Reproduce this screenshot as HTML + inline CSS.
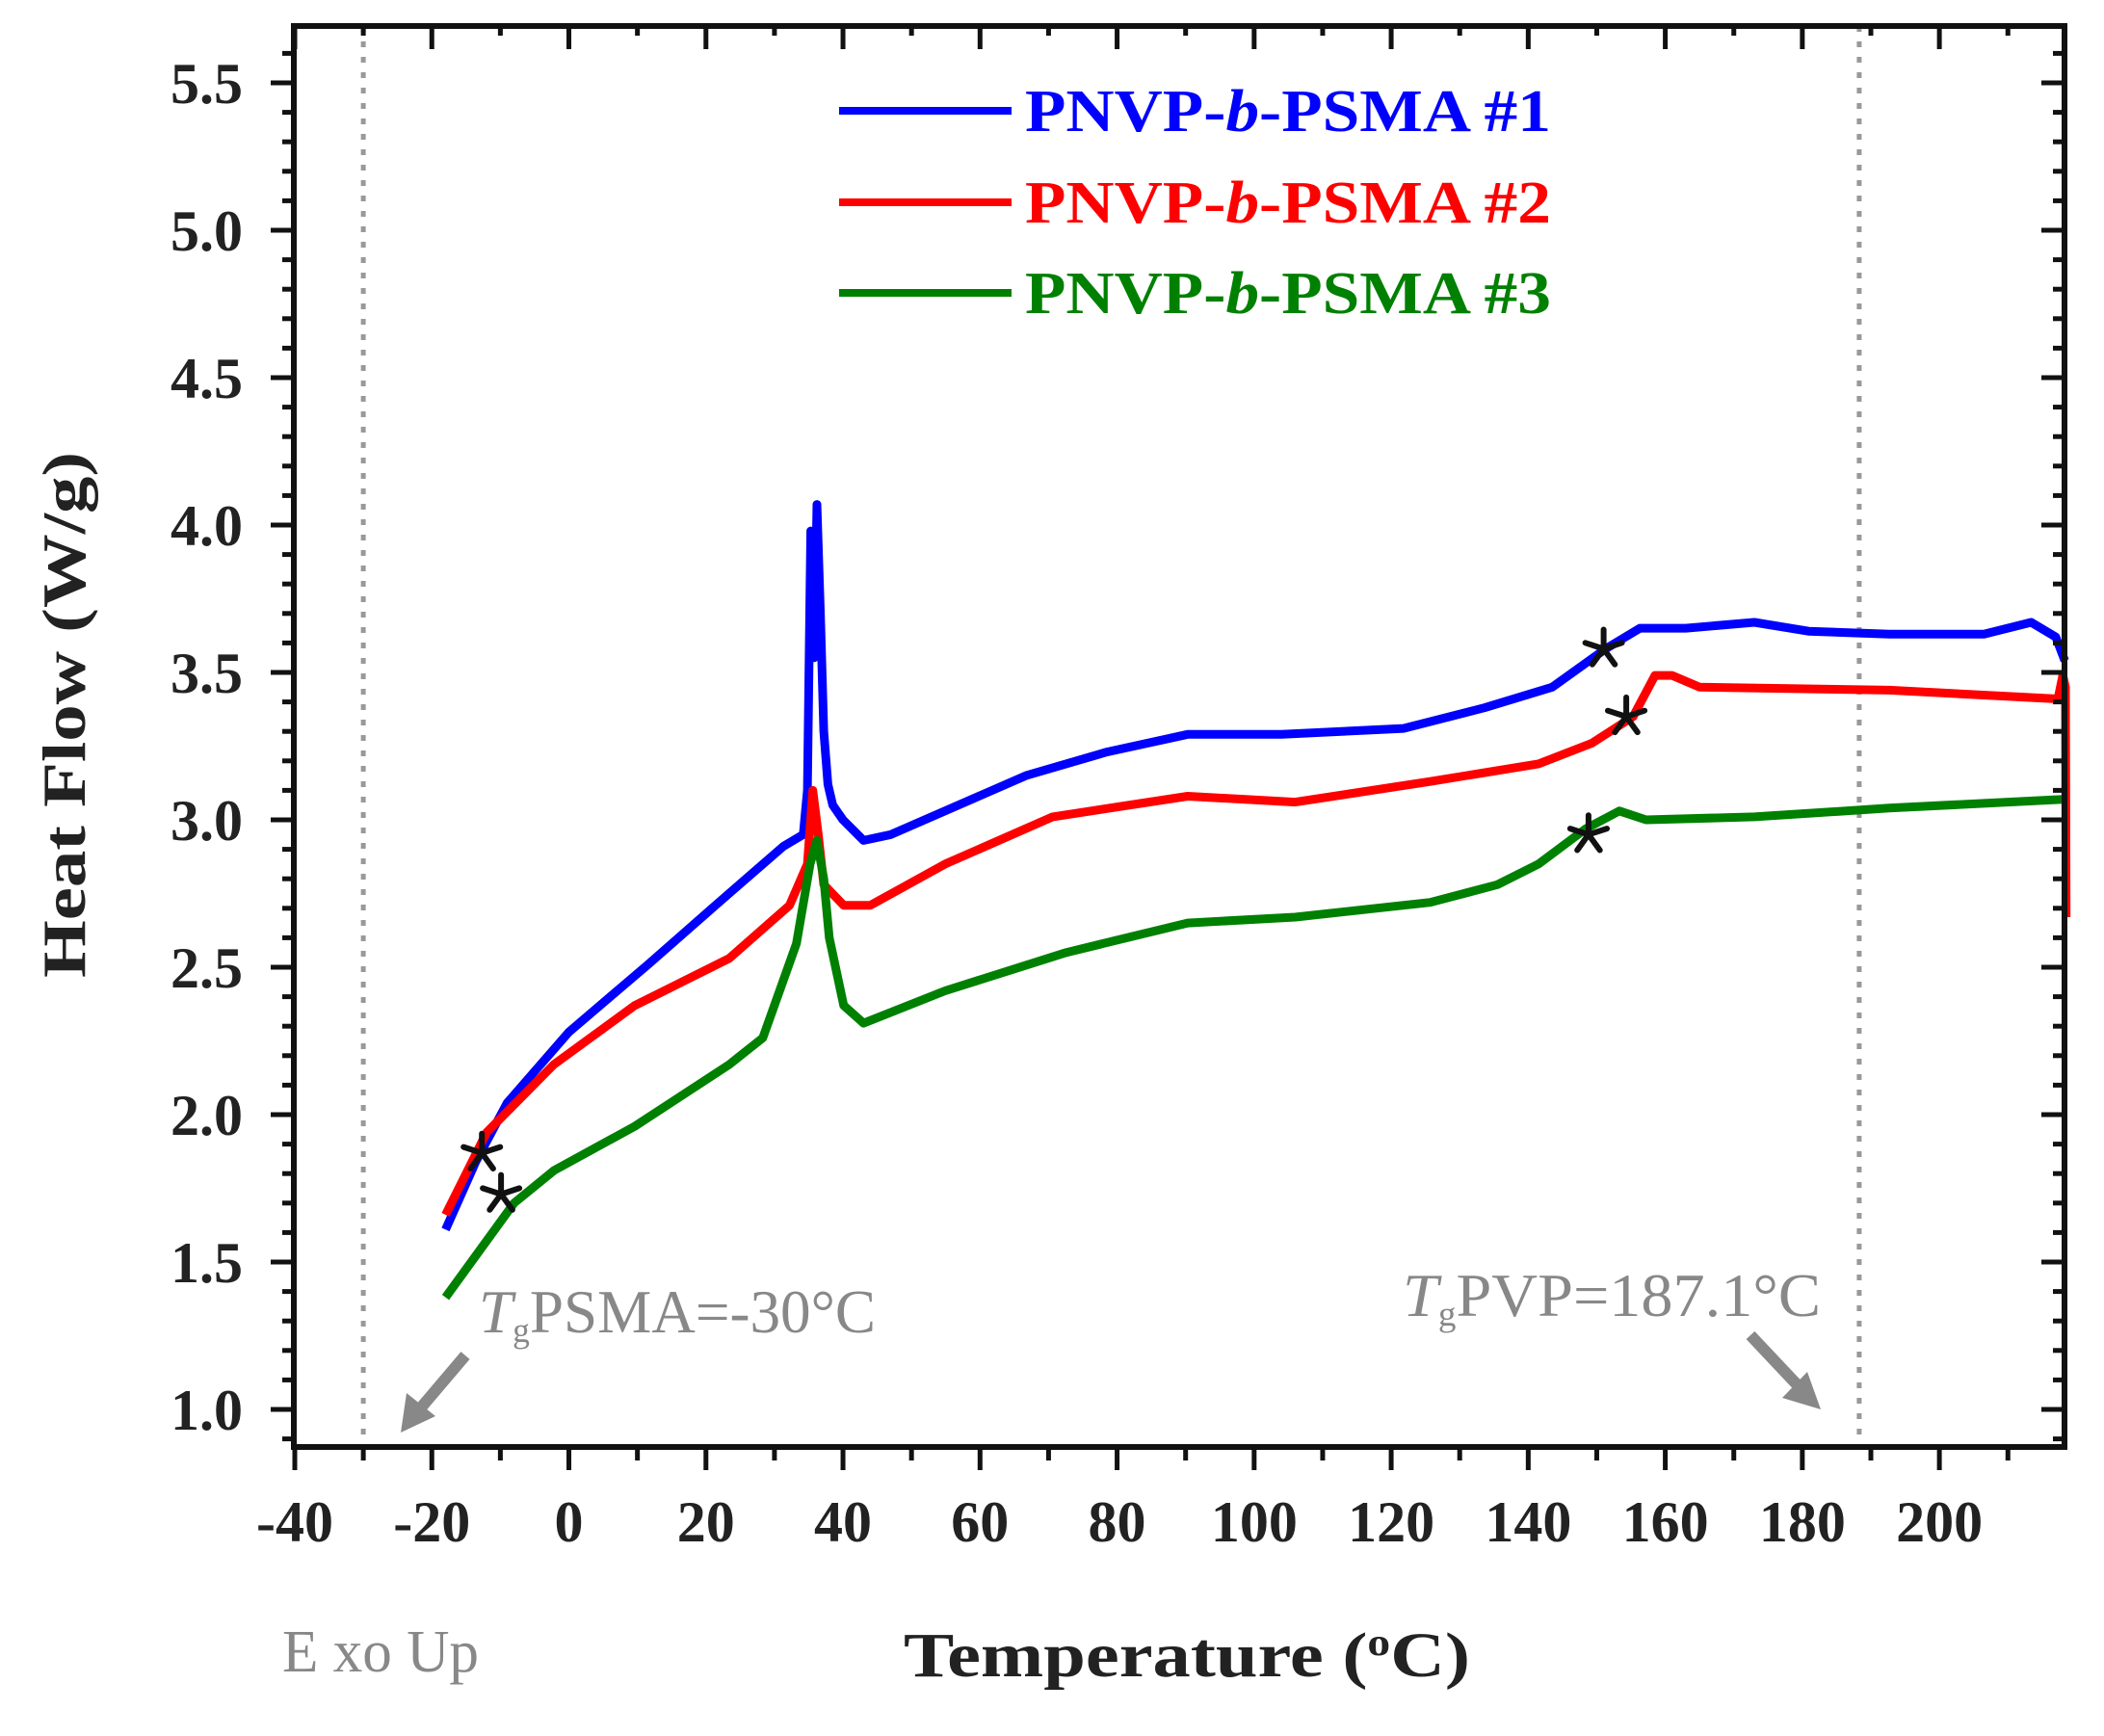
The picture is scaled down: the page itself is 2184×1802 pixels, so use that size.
<!DOCTYPE html>
<html><head><meta charset="utf-8"><style>
html,body{margin:0;padding:0;background:#fff;}
svg{display:block;}
text{font-family:"Liberation Serif",serif;}
</style></head><body>
<svg id="chart" width="2184" height="1802" viewBox="0 0 2184 1802" xmlns="http://www.w3.org/2000/svg">
<rect width="2184" height="1802" fill="#fff"/>
<g id="plot"></g>
<g id="axes"></g>
<g id="legend"></g>
<text x="0" y="0" transform="translate(88,742) rotate(-90)" text-anchor="middle" font-size="64" font-weight="bold" fill="#222" textLength="546" lengthAdjust="spacingAndGlyphs">Heat Flow (W/g)</text>
<text x="1232" y="1740" text-anchor="middle" font-size="66" font-weight="bold" fill="#222" textLength="588" lengthAdjust="spacingAndGlyphs">Temperature (<tspan baseline-shift="super" font-size="40">o</tspan>C)</text>
<text x="293" y="1735" font-size="62" fill="#888" textLength="204" lengthAdjust="spacingAndGlyphs">E xo Up</text>
<text x="497" y="1383" font-size="64" fill="#888" textLength="412" lengthAdjust="spacingAndGlyphs"><tspan font-style="italic">T</tspan><tspan font-size="36" dy="10">g</tspan><tspan dy="-10">PSMA=-30°C</tspan></text>
<text x="1456" y="1366" font-size="64" fill="#888" textLength="434" lengthAdjust="spacingAndGlyphs"><tspan font-style="italic">T</tspan><tspan font-size="36" dy="10">g</tspan><tspan dy="-10">PVP=187.1°C</tspan></text>
<g fill="#888" stroke="#888">
<line x1="483" y1="1407" x2="438" y2="1460" stroke-width="12"/>
<polygon points="416,1487 422,1446 452,1470" stroke="none"/>
</g>
<g fill="#888" stroke="#888">
<line x1="1817" y1="1386" x2="1866" y2="1438" stroke-width="12"/>
<polygon points="1890,1463 1850,1451 1876,1424" stroke="none"/>
</g>
</svg>
<script>
const seriesNames = ["PNVP-b-PSMA #1","PNVP-b-PSMA #2","PNVP-b-PSMA #3"];
const seriesColors = ["#0000ff","#ff0000","#008000"];
const s1x = [-18,-13.6,-9,0,11.6,21.4,31.3,34.2,34.8,35.3,35.8,36.2,36.7,37.2,37.8,38.5,40,43,47,54.9,66.7,78.5,90.3,104,121.8,133.6,143.5,151.3,156.3,163,173,180.9,192.7,206.5,213.4,217,218.3];
const s1y = [1.61,1.84,2.04,2.28,2.51,2.71,2.91,2.95,3.1,3.98,3.55,4.07,3.7,3.3,3.12,3.05,3.0,2.93,2.95,3.03,3.15,3.23,3.29,3.29,3.31,3.38,3.45,3.58,3.65,3.65,3.67,3.64,3.63,3.63,3.67,3.62,3.54];
const s2x = [-18,-12,-2.2,9.6,23.4,32.2,34.8,35.6,36.4,37.2,40.1,44,54.9,70.6,90.3,106,125.7,141.5,149.3,155.3,158.5,161,165,192.7,217.3,218,218.4,218.5];
const s2y = [1.66,1.94,2.17,2.37,2.53,2.71,2.85,3.1,2.95,2.78,2.71,2.71,2.85,3.01,3.08,3.06,3.13,3.19,3.26,3.35,3.49,3.49,3.45,3.44,3.41,3.49,3.45,2.67];
const s3x = [-18,-8,-2.2,9.6,23.4,28.3,33.2,35.2,36.2,37.2,38,40.1,43,54.9,72.6,90.3,106,125.7,135.5,141.5,148.4,153.3,157.2,173,192.7,218.4];
const s3y = [1.38,1.70,1.81,1.96,2.17,2.26,2.58,2.85,2.93,2.8,2.6,2.37,2.31,2.42,2.55,2.65,2.67,2.72,2.78,2.85,2.97,3.03,3.0,3.01,3.04,3.07];
const starX = [-12.7,-9.9,151,154.3,148.8];
const starY = [1.87,1.73,3.58,3.35,2.95];
const xTicks = [-40,-20,0,20,40,60,80,100,120,140,160,180,200];
const yTicks = [1.0,1.5,2.0,2.5,3.0,3.5,4.0,4.5,5.0,5.5];
const tgLines = [-30,188.3];

const NS="http://www.w3.org/2000/svg";
const L=305,R=2143,T=27,B=1502;
const X=v=>306+(v+40)*7.113;
const Y=v=>86+(5.5-v)*306;
function mk(tag,attrs,parent){const e=document.createElementNS(NS,tag);for(const k in attrs)e.setAttribute(k,attrs[k]);parent.appendChild(e);return e;}
const plot=document.getElementById('plot'),axes=document.getElementById('axes'),legend=document.getElementById('legend');

tgLines.forEach((t,i)=>{
 const l=mk('line',{x1:X(t),x2:X(t),y1:T,y2:B,stroke:'#999','stroke-width':5,'stroke-dasharray':'6 10'},plot);
 
 
});

const xs=[s1x,s2x,s3x],ys=[s1y,s2y,s3y];
for(let i=0;i<3;i++){
 const pts=xs[i].map((x,j)=>X(x).toFixed(1)+','+Y(ys[i][j]).toFixed(1)).join(' ');
 const p=mk('polyline',{points:pts,fill:'none',stroke:seriesColors[i],'stroke-width':9,'stroke-linejoin':'round'},plot);
 
 
}
starX.forEach((x,i)=>{
 const cx=X(x),cy=Y(starY[i]);
 let d='';
 for(let k=0;k<5;k++){const a=-Math.PI/2+k*2*Math.PI/5;d+='M'+cx.toFixed(1)+','+cy.toFixed(1)+'L'+(cx+20*Math.cos(a)).toFixed(1)+','+(cy+20*Math.sin(a)).toFixed(1);}
 const g=mk('path',{d:d,stroke:'#111','stroke-width':6,'stroke-linecap':'round',fill:'none'},plot);
 
 
});

mk('rect',{x:L,y:T,width:R-L,height:B-T,fill:'none',stroke:'#111','stroke-width':6},axes);
for(let v=-40;v<=210;v+=10){
 const major=v%20===0;
 mk('line',{x1:X(v),x2:X(v),y1:B,y2:B+(major?24:14),stroke:'#111','stroke-width':5},axes);
 mk('line',{x1:X(v),x2:X(v),y1:T,y2:T+(major?24:10),stroke:'#111','stroke-width':5},axes);
}
for(let k=9;k<=56;k++){
 const v=k/10, major=k%5===0;
 mk('line',{x1:L-(major?24:12),x2:L,y1:Y(v),y2:Y(v),stroke:'#111','stroke-width':5},axes);
 mk('line',{x1:R-(major?24:12),x2:R,y1:Y(v),y2:Y(v),stroke:'#111','stroke-width':5},axes);
}
xTicks.forEach(v=>{
 const t=mk('text',{x:X(v),y:1600,'text-anchor':'middle','font-size':60,'font-weight':'bold',fill:'#222'},axes);
 t.textContent=String(v);
 
 
});
yTicks.forEach(v=>{
 const t=mk('text',{x:252,y:Y(v)+21,'text-anchor':'end','font-size':60,'font-weight':'bold',fill:'#222'},axes);
 t.textContent=v.toFixed(1);
 
 
});

const legY=[115,210,304];
seriesNames.forEach((n,i)=>{
 const l=mk('line',{x1:871,x2:1050,y1:legY[i],y2:legY[i],stroke:seriesColors[i],'stroke-width':8},legend);
 
 
 const t=mk('text',{x:1064,y:legY[i]+21,'font-size':62,'font-weight':'bold',fill:seriesColors[i],textLength:546,lengthAdjust:'spacingAndGlyphs'},legend);
 t.innerHTML='PNVP-<tspan font-style="italic">b</tspan>-PSMA #'+(i+1);
 
 
});
</script>
</body></html>
